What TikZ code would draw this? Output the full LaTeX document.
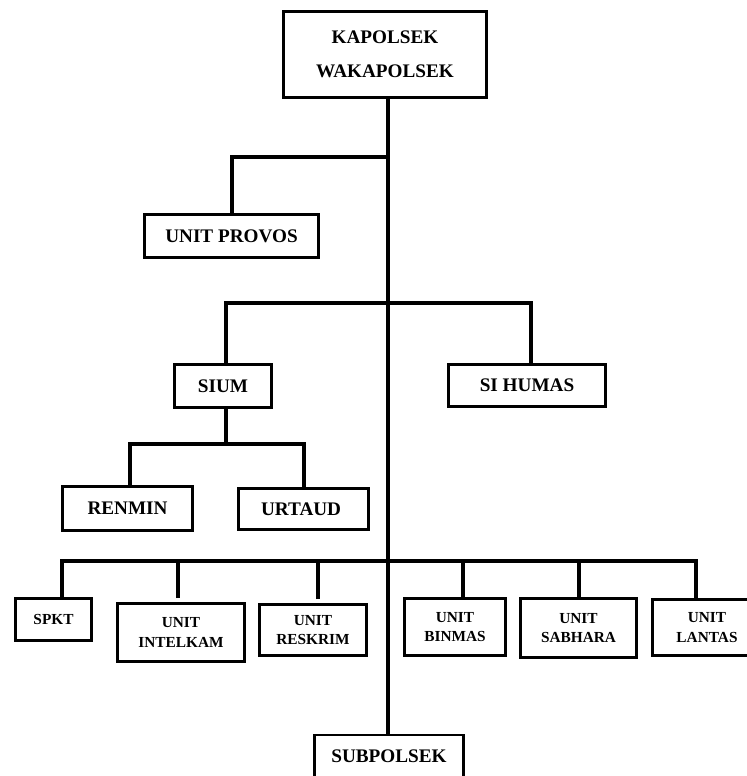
\documentclass[tikz,border=0pt]{standalone}
\usepackage{fontspec}
\setmainfont{Liberation Serif}
\usepackage{tikz}
\usetikzlibrary{positioning}

\tikzset{
  unitbox/.style={draw, line width=2.2pt, inner sep=0pt, align=center,
    font=\bfseries\fontsize{14.4}{25.5}\selectfont},
  smallbox/.style={unitbox, font=\bfseries\fontsize{11.5}{14.5}\selectfont},
  link/.style={line width=3pt}
}

\begin{document}
\begin{tikzpicture}[x=0.75pt, y=-0.75pt]
 \useasboundingbox (0,0) rectangle (747,776);
 \clip (0,0) rectangle (747,776);

 %top
 \node[unitbox, minimum width=203*0.75pt, minimum height=86*0.75pt] (kapolsek) at (385,54.5) {KAPOLSEK\\WAKAPOLSEK};
 \node[unitbox, minimum width=174*0.75pt, minimum height=43*0.75pt] (provos) at (231.5,236) {UNIT PROVOS};

 %level 2
 \foreach \x/\y/\w/\h/\name/\txt in { 223/386/97/43/sium/SIUM, 527/385.5/157/42/sihumas/SI HUMAS,
        127.5/508.5/130/44/renmin/RENMIN, 303.5/509/130/41/urtaud/URTAUD } {
         \node[unitbox, minimum width=\w*0.75pt, minimum height=\h*0.75pt] (\name) at (\x,\y) {\txt};
 }

 %level 3
 \node[smallbox, minimum width=76*0.75pt, minimum height=42*0.75pt] (spkt) at (53.5,619.5) {SPKT};
 \foreach \x/\y/\w/\h/\name/\txt in { 181/632.5/127/58/intelkam/INTELKAM,
        313/630/107/51/reskrim/RESKRIM, 455/627/101/57/binmas/BINMAS,
        578.5/628/116/59/sabhara/SABHARA, 707/627.5/109/56/lantas/LANTAS } {
         \node[smallbox, minimum width=\w*0.75pt, minimum height=\h*0.75pt] (\name) at (\x,\y) {UNIT\\\txt};
 }

 \node[unitbox, minimum width=149*0.75pt, minimum height=42*0.75pt] (subpolsek) at (389,756) {SUBPOLSEK};

 %junctions
 \coordinate (j1) at (388,157);
 \coordinate (j2) at (388,303);
 \coordinate (j3) at (226,444);
 \coordinate (j4) at (388,561);

 %lines
 \draw[link] ([xshift=2.25pt]kapolsek.south) -- ([xshift=-0.75pt]subpolsek.north);
 \draw[link] (provos.north) |- (j1);
 \draw[link] ([xshift=2.25pt]sium.north) |- (j2) -| ([xshift=3pt]sihumas.north);
 \draw[link] ([xshift=2.25pt]sium.south) -- (j3);
 \draw[link] ([xshift=1.9pt]renmin.north) |- (j3) -| (urtaud.north);

 \foreach \name/\dx in { spkt/8.5, binmas/8, sabhara/0.5, lantas/-11 } {
         \draw[link] ([xshift=\dx*0.75pt]\name.north) |- (j4);
 }
 \foreach \name/\dx in { intelkam/-3, reskrim/5 } {
         \draw[link, shorten <=3pt] ([xshift=\dx*0.75pt]\name.north) |- (j4);
 }

\end{tikzpicture}
\end{document}
